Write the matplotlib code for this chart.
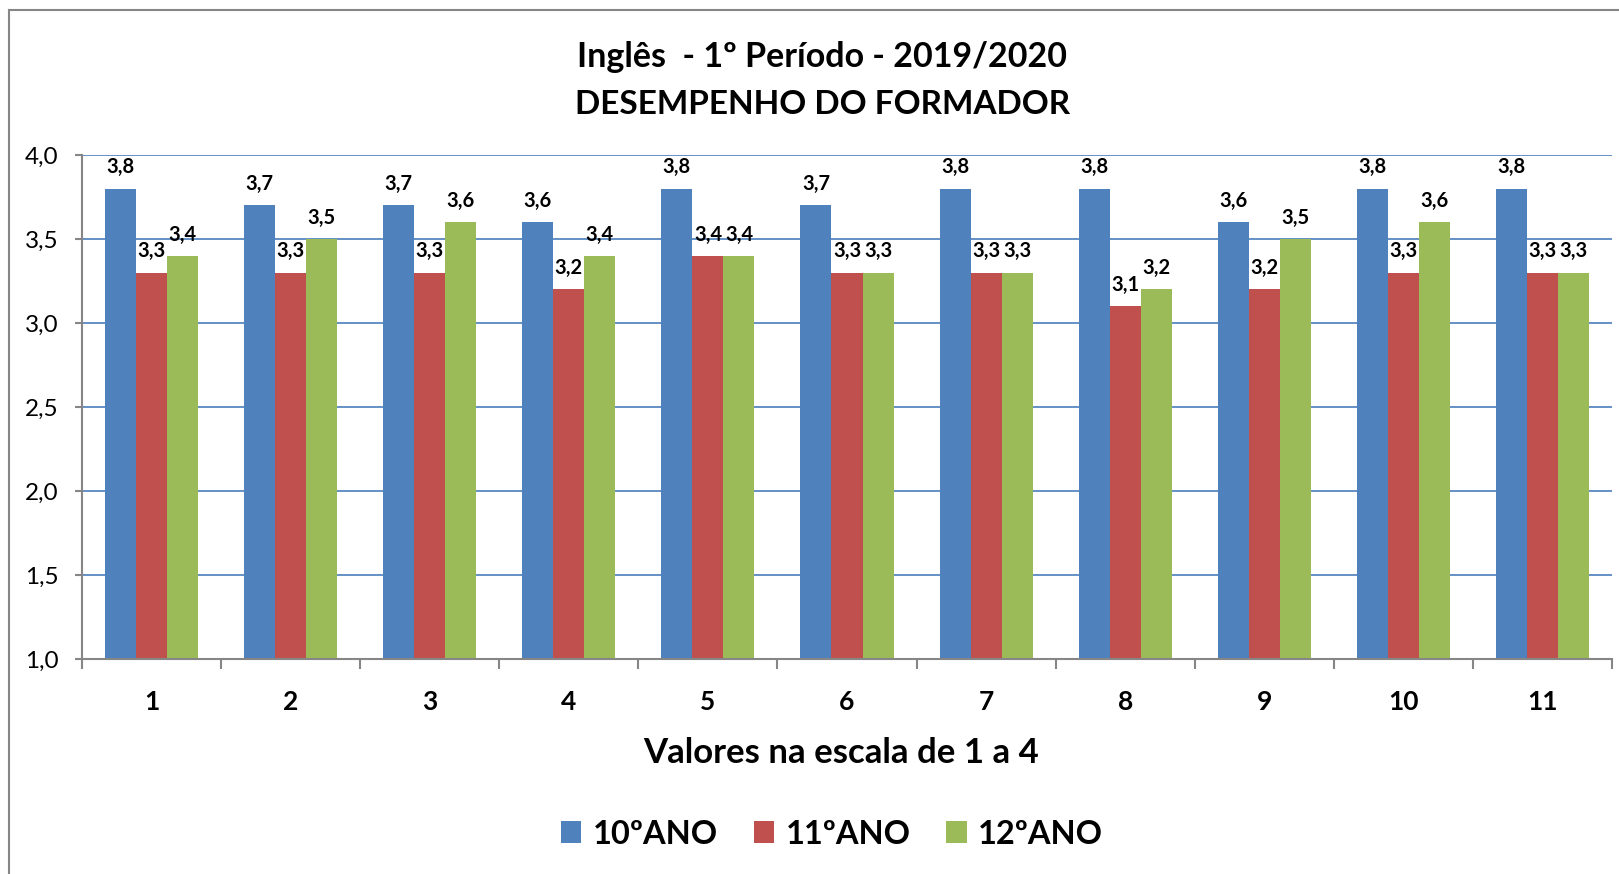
###############################################################################
#grafico de barras - desempenho do formador

import numpy as np #vetores
import matplotlib
matplotlib.use('Agg')
import matplotlib.pyplot as plt #plots
from matplotlib.lines import Line2D

#%%
#dados
categorias = ['1', '2', '3', '4', '5', '6', '7', '8', '9', '10', '11']
series = ['10ºANO', '11ºANO', '12ºANO']
ano_10 = [3.8, 3.7, 3.7, 3.6, 3.8, 3.7, 3.8, 3.8, 3.6, 3.8, 3.8]
ano_11 = [3.3, 3.3, 3.3, 3.2, 3.4, 3.3, 3.3, 3.1, 3.2, 3.3, 3.3]
ano_12 = [3.4, 3.5, 3.6, 3.4, 3.4, 3.3, 3.3, 3.2, 3.5, 3.6, 3.3]
y_ticks = [1.0, 1.5, 2.0, 2.5, 3.0, 3.5, 4.0]

#cores padrao do excel
cores = ['#4F81BD', '#C0504D', '#9BBB59']
cinza = '#868686'

plt.rcParams['font.family'] = ['Lato', 'DejaVu Sans']

#%%
#figura
fig = plt.figure(figsize = (16.19, 8.74), dpi = 100)
ax = fig.add_axes([82/1619, 1 - 659/874, (1612 - 82)/1619, (659 - 155)/874])

x = np.arange(len(categorias))
largura = 0.223

for i, (valores, nome) in enumerate(zip([ano_10, ano_11, ano_12], series)):
    pos = x + (i - 1) * largura
    ax.bar(pos, valores, width = largura, color = cores[i], label = nome,
           zorder = 3, edgecolor = 'none')
    #rotulos de dados com virgula decimal
    for xp, v in zip(pos, valores):
        ax.annotate('{:.1f}'.format(v).replace('.', ','),
                    xy = (xp, v), xytext = (0, 11), textcoords = 'offset points',
                    ha = 'center', va = 'baseline', fontsize = 14.5,
                    fontweight = 'bold', zorder = 5)

#eixos
ax.set_xlim(-0.5, len(categorias) - 0.5)
ax.set_ylim(1.0, 4.0)
ax.set_yticks(y_ticks)
ax.set_yticklabels(['{:.1f}'.format(t).replace('.', ',') for t in y_ticks],
                   fontsize = 17.5)
ax.tick_params(axis = 'y', length = 5, width = 1.5, color = cinza, pad = 12)

#ticks entre categorias, rotulos no centro
ax.set_xticks(np.arange(len(categorias) + 1) - 0.5)
ax.set_xticklabels([])
ax.tick_params(axis = 'x', which = 'major', length = 7, width = 1.5,
               color = cinza, direction = 'out')
ax.set_xticks(x, minor = True)
ax.set_xticklabels(categorias, minor = True, fontsize = 19, fontweight = 'bold')
ax.tick_params(axis = 'x', which = 'minor', length = 0, pad = 22)

#grade horizontal azul
ax.yaxis.grid(True, color = '#4A7EBB', linewidth = 1.2, zorder = 0)
ax.set_axisbelow(True)

for lado in ['top', 'right']:
    ax.spines[lado].set_visible(False)
for lado in ['left', 'bottom']:
    ax.spines[lado].set_color(cinza)
    ax.spines[lado].set_linewidth(1.5)
    ax.spines[lado].set_zorder(4)

#titulo e rotulo do eixo
fig.text(0.508, 1 - 67/874, 'Inglês  - 1º Período - 2019/2020', ha = 'center',
         va = 'baseline', fontsize = 24.5, fontweight = 'bold')
fig.text(0.508, 1 - 114/874, 'DESEMPENHO DO FORMADOR', ha = 'center',
         va = 'baseline', fontsize = 24, fontweight = 'bold')
fig.text(841/1619, 1 - 763/874, 'Valores na escala de 1 a 4', ha = 'center',
         va = 'baseline', fontsize = 25, fontweight = 'bold')

#legenda
fig.legend(loc = 'center', bbox_to_anchor = (832/1619, 1 - 834/874), ncol = 3,
           frameon = False, prop = {'size': 23.5, 'weight': 'bold'},
           handlelength = 0.62, handleheight = 0.62, handletextpad = 0.35,
           columnspacing = 1.1)

#borda do grafico (cortada a direita e embaixo)
fig.add_artist(Line2D([9/1619, 9/1619], [0, 1 - 10/874], color = cinza,
                      linewidth = 1.5, transform = fig.transFigure))
fig.add_artist(Line2D([9/1619, 1], [1 - 10/874, 1 - 10/874], color = cinza,
                      linewidth = 1.5, transform = fig.transFigure))

plt.savefig('out.png', dpi = 100)
